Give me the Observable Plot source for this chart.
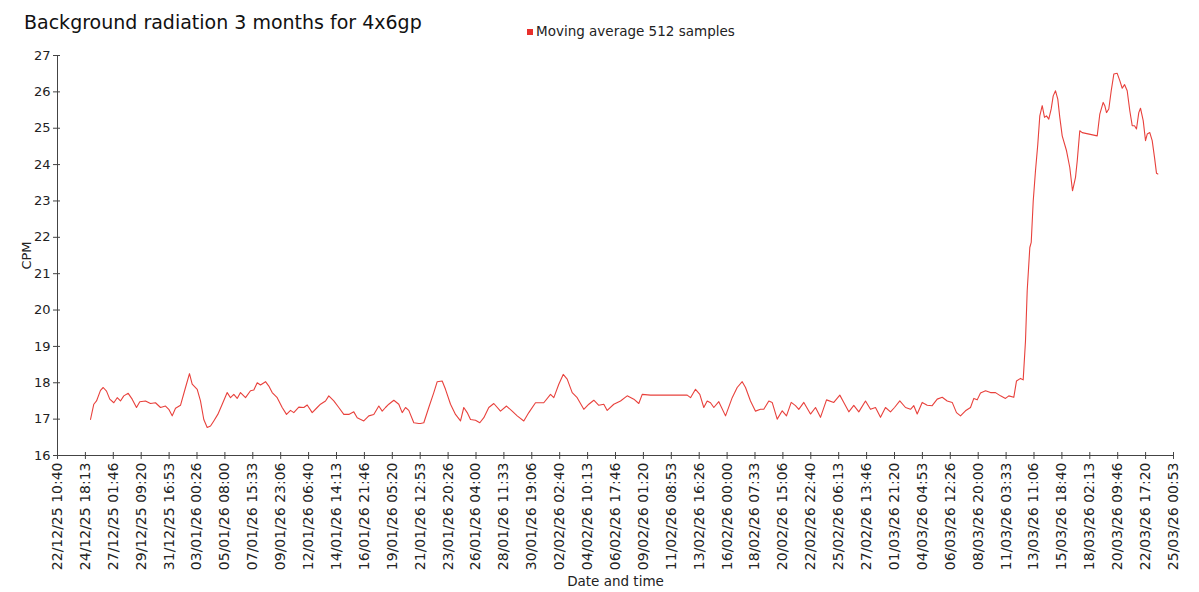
<!DOCTYPE html>
<html><head><meta charset="utf-8">
<script src="https://cdn.jsdelivr.net/npm/d3@7"></script>
<script src="https://cdn.jsdelivr.net/npm/@observablehq/plot@0.6"></script>
<style>
body{margin:0;background:#fff;font-family:"DejaVu Sans",sans-serif;}
#head{position:relative;height:45px;width:1199px;}
#title{position:absolute;left:24px;top:11px;font-size:19px;color:#111;white-space:nowrap;}
#legend{position:absolute;left:527px;top:23px;font-size:13.5px;color:#222;white-space:nowrap;}
#legend span{display:inline-block;width:6px;height:6px;background:#e8302c;margin-right:3px;vertical-align:1px;}
</style></head><body>
<div id="head"><div id="title">Background radiation 3 months for 4x6gp</div><div id="legend"><span></span>Moving average 512 samples</div></div>
<div id="chart"></div>
<script>
const seriesName = "Moving average 512 samples";
const startTime = "22/12/25 10:40";
// elapsed hours since startTime
const hours = [65.7,72.3,77.7,85.6,91.0,97.6,104.1,112.1,118.9,125.4,132.0,140.8,148.7,157.3,163.9,175.2,185.2,195.1,205.1,215.1,221.6,228.4,235.0,244.9,254.9,262.8,268.2,278.2,284.7,291.3,298.1,304.7,311.2,319.2,328.0,337.9,344.5,351.1,357.8,364.4,374.4,384.3,390.9,397.7,404.2,414.2,420.8,427.5,437.5,447.4,456.0,464.0,470.5,480.5,490.4,497.2,507.2,517.1,523.7,533.7,540.2,550.2,560.1,570.1,580.1,590.0,596.8,609.9,619.9,629.8,639.8,646.6,653.1,659.7,669.7,679.6,686.4,693.0,699.5,709.5,719.4,
722.8,729.4,739.3,749.3,756.1,766.0,772.6,782.6,792.5,802.5,809.0,815.8,822.4,832.3,840.9,848.9,858.8,868.8,882.1,894.1,905.4,915.4,928.5,938.5,951.8,968.3,981.7,988.3,998.2,1007.0,1014.9,1024.9,1034.8,1048.0,1058.0,1067.9,1077.9,1087.8,1094.6,1107.7,1121.1,1134.4,1147.6,1157.5,1164.3,1180.8,1253.9,1260.5,1270.4,1279.0,1286.9,1293.7,1300.3,1306.9,1316.8,1330.2,1343.5,1353.4,1363.4,1370.0,1379.9,1389.9,
1399.8,1406.4,1416.4,1423.1,1433.1,1443.1,1451.6,1461.0,1469.5,1476.1,1486.1,1499.4,1509.4,1519.3,1531.3,1545.8,1557.8,1565.7,1575.7,1585.6,1595.6,1608.9,1618.9,1628.8,1638.8,1648.7,1658.7,1666.7,1677.2,1688.6,1698.5,1705.1,1711.9,1721.8,1731.8,1741.7,1751.7,1761.7,1771.6,1781.6,1790.1,1798.1,1808.0,1818.0,1824.6,1831.3,1837.9,1847.9,1857.8,1867.8,1877.7,1887.7,1894.3,1904.2,1909.6,1917.6,1922.9,
1927.5,1930.9,1936.1,1938.9,1942.9,1947.4,1952.0,1956.0,1960.8,1965.4,1969.3,1973.9,1978.7,1982.7,1987.3,1991.8,1995.8,2000.6,2009.2,2015.7,2021.1,2027.1,2030.5,2035.6,2040.4,2070.3,2075.5,2082.2,2085.4,2088.8,2093.4,2098.2,2103.4,2110.1,2115.3,2120.1,2124.7,2130.0,2135.2,2140.0,2144.6,2148.5,2153.1,2156.5,2161.9,2166.5,2169.9,2175.0,2179.8,2184.4,2188.4,2191.0];
const cpm = [16.99,17.41,17.50,17.79,17.87,17.77,17.55,17.45,17.59,17.50,17.64,17.71,17.55,17.32,17.48,17.50,17.43,17.45,17.32,17.36,17.27,17.09,17.30,17.38,17.87,18.25,17.96,17.82,17.50,16.99,16.77,16.81,16.95,17.13,17.41,17.73,17.59,17.68,17.57,17.73,17.59,17.78,17.80,18.00,17.94,18.03,17.91,17.73,17.59,17.32,17.13,17.24,17.18,17.33,17.32,17.39,17.18,17.32,17.41,17.50,17.64,17.50,17.32,17.13,17.13,17.20,17.04,16.95,17.09,17.13,17.36,17.22,17.32,17.41,17.52,17.41,17.18,17.32,17.24,16.90,16.88,
16.88,16.90,17.32,17.73,18.03,18.05,17.82,17.41,17.13,16.95,17.32,17.18,16.99,16.97,16.90,17.04,17.32,17.43,17.22,17.36,17.22,17.09,16.95,17.18,17.45,17.45,17.68,17.59,17.96,18.23,18.10,17.73,17.59,17.27,17.41,17.52,17.38,17.41,17.24,17.41,17.50,17.64,17.55,17.43,17.68,17.66,17.66,17.59,17.82,17.68,17.32,17.50,17.45,17.32,17.48,17.09,17.59,17.87,18.03,17.87,17.50,17.22,
17.27,17.27,17.50,17.46,17.00,17.23,17.09,17.46,17.37,17.27,17.46,17.14,17.32,17.05,17.53,17.46,17.66,17.46,17.20,17.38,17.20,17.50,17.27,17.32,17.05,17.32,17.20,17.32,17.50,17.32,17.27,17.37,17.14,17.46,17.38,17.37,17.55,17.60,17.50,17.46,17.18,17.09,17.23,17.32,17.57,17.53,17.72,17.78,17.73,17.73,17.64,17.57,17.64,17.60,18.05,18.12,18.08,
19.15,20.53,21.72,21.86,23.00,23.83,24.56,25.34,25.62,25.30,25.34,25.25,25.53,25.89,26.03,25.80,25.30,24.79,24.38,23.92,23.28,23.65,24.10,24.93,24.88,24.79,25.39,25.71,25.62,25.43,25.53,26.03,26.49,26.51,26.31,26.10,26.20,26.03,25.48,25.07,25.07,24.98,25.43,25.55,25.21,24.66,24.84,24.88,24.66,24.20,23.76,23.74];
const tickLabels = ["22/12/25 10:40","24/12/25 18:13","27/12/25 01:46","29/12/25 09:20","31/12/25 16:53","03/01/26 00:26","05/01/26 08:00","07/01/26 15:33","09/01/26 23:06","12/01/26 06:40","14/01/26 14:13","16/01/26 21:46","19/01/26 05:20","21/01/26 12:53","23/01/26 20:26","26/01/26 04:00","28/01/26 11:33","30/01/26 19:06","02/02/26 02:40","04/02/26 10:13","06/02/26 17:46","09/02/26 01:20","11/02/26 08:53","13/02/26 16:26","16/02/26 00:00","18/02/26 07:33","20/02/26 15:06","22/02/26 22:40","25/02/26 06:13","27/02/26 13:46","01/03/26 21:20","04/03/26 04:53","06/03/26 12:26","08/03/26 20:00","11/03/26 03:33","13/03/26 11:06","15/03/26 18:40","18/03/26 02:13","20/03/26 09:46","22/03/26 17:20","25/03/26 00:53"];
const yTicks = [16,17,18,19,20,21,22,23,24,25,26,27];

const parse = d3.utcParse("%d/%m/%y %H:%M");
const t0 = parse(startTime);
const tickDates = tickLabels.map(parse);
const labelByTime = new Map(tickDates.map((d, i) => [+d, tickLabels[i]]));
const rows = hours.map((h, i) => ({date: new Date(+t0 + h * 3600e3), cpm: cpm[i]}));

const axisColor = "#444";
const chart = Plot.plot({
  width: 1199, height: 547,
  marginTop: 10, marginBottom: 137, marginLeft: 57, marginRight: 26,
  style: {fontFamily: "DejaVu Sans", fontSize: "13px", color: "#333", background: "#fff"},
  x: {type: "utc", domain: [tickDates[0], tickDates[tickDates.length - 1]]},
  y: {domain: [16, 27]},
  marks: [
    Plot.ruleY([16], {stroke: axisColor}),
    Plot.ruleX([tickDates[0]], {stroke: axisColor}),
    Plot.axisX(tickDates, {tickSize: 7, dy: -3, text: null, label: null, stroke: axisColor}),
    Plot.axisX(tickDates, {tickSize: 0, tickPadding: 7, tickRotate: -90, fontSize: 14, tickFormat: d => labelByTime.get(+d), label: null, fill: "#222"}),
    Plot.axisX({ticks: [], tickSize: 0, label: "Date and time", labelAnchor: "center", labelArrow: "none", labelOffset: 130, fontSize: 13.5, fill: "#222"}),
    Plot.axisY(yTicks, {tickSize: 7, dx: 3, text: null, label: null, stroke: axisColor}),
    Plot.axisY(yTicks, {tickSize: 0, tickPadding: 7, label: "CPM", labelAnchor: "center", labelArrow: "none", labelOffset: 36, fill: "#222"}),
    Plot.lineY(rows, {x: "date", y: "cpm", stroke: "#e8413c", strokeWidth: 1.1})
  ]
});
document.getElementById("chart").append(chart);
</script>
</body></html>
